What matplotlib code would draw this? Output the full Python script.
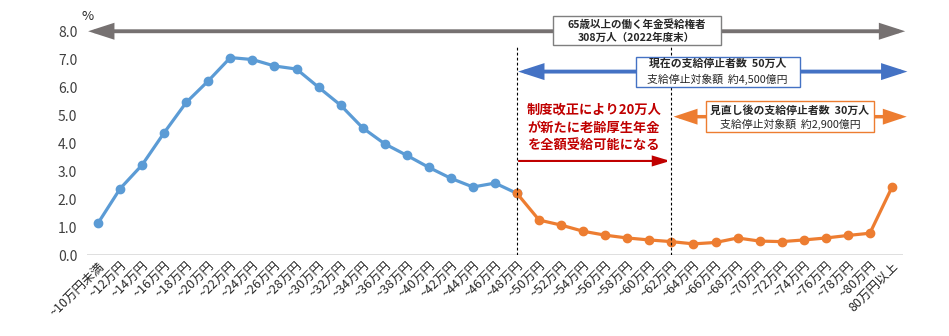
import matplotlib
matplotlib.use("Agg")
import matplotlib.pyplot as plt
from matplotlib.patches import Rectangle

plt.rcParams['font.family'] = ['Noto Sans CJK JP', 'DejaVu Sans']

# income brackets (monthly wage + pension)
labels = ["~10万円未満"] + ["~%d万円" % v for v in range(12, 82, 2)] + ["80万円以上"]

# share of working pensioners per bracket (%)
before = [1.15, 2.38, 3.23, 4.38, 5.46, 6.23, 7.06, 6.99, 6.76, 6.65,
          6.00, 5.36, 4.55, 3.98, 3.57, 3.14, 2.75, 2.44, 2.58, 2.21]
after = [2.21, 1.26, 1.08, 0.86, 0.72, 0.62, 0.55, 0.49, 0.41, 0.46,
         0.62, 0.51, 0.49, 0.55, 0.62, 0.71, 0.79, 2.43]

blue = "#5B9BD5"
orange = "#ED7D31"

fig = plt.figure(figsize=(9.49, 3.36), dpi=100)
ax = fig.add_axes([0.0917, 0.240, 0.8598, 0.667])

x_before = list(range(len(before)))
x_after = list(range(len(before) - 1, len(before) - 1 + len(after)))

ax.plot(x_before, before, color=blue, lw=2.3, marker="o", ms=6, zorder=3)
ax.plot(x_after, after, color=orange, lw=2.3, marker="o", ms=6, zorder=3)

ax.set_xlim(-0.5, len(labels) - 0.5)
ax.set_ylim(0, 8)
ax.set_yticks([i for i in range(9)])
ax.set_yticklabels(["%.1f" % i for i in range(9)], fontsize=10, color="#404040")
ax.set_xticks(range(len(labels)))
ax.set_xticklabels(labels, rotation=45, ha="right", rotation_mode="anchor",
                   fontsize=9, color="#262626")
ax.tick_params(axis="x", length=0, pad=3)
ax.tick_params(axis="y", length=0, pad=7)
for s in ax.spines.values():
    s.set_visible(False)
ax.axhline(0, color="#D9D9D9", lw=1.2, zorder=1)

fig.text(88 / 949, 1 - 16 / 336, "%", fontsize=9.5, ha="center", va="center", color="#262626")

# vertical dashed markers
ax.vlines([19, 26], 0, 7.45, colors="black", linestyles=(0, (2.5, 2)), lw=0.8, zorder=4)


def arrow(x0, x1, y, color, lw, hl, hw, style="<|-|>"):
    ax.annotate("", xy=(x1, y), xytext=(x0, y), xycoords="data", annotation_clip=False,
                arrowprops=dict(arrowstyle="%s,head_length=%s,head_width=%s" % (style, hl, hw),
                                color=color, lw=lw, shrinkA=0, shrinkB=0, mutation_scale=10,
                                joinstyle="miter", capstyle="butt"))


def box(x0, x1, y0, y1, ec):
    ax.add_patch(Rectangle((x0, y0), x1 - x0, y1 - y0, facecolor="white", edgecolor=ec,
                           lw=1.0, zorder=5, clip_on=False))


# all working pension holders
arrow(-0.45, 36.6, 8.0, "#767171", 2.8, 1.3, 0.42)
box(20.61, 28.24, 7.51, 8.55, "#7F7F7F")
ax.text(24.43, 8.22, "65歳以上の働く年金受給権者", ha="center", va="center", fontsize=7.6,
        fontweight="bold", color="#262626", zorder=6, clip_on=False)
ax.text(24.43, 7.77, "308万人（2022年度末）", ha="center", va="center", fontsize=7.6,
        fontweight="bold", color="#262626", zorder=6, clip_on=False)

# current suspension
arrow(19.05, 36.7, 6.56, "#4472C4", 2.8, 1.3, 0.42)
box(24.39, 31.82, 6.01, 7.09, "#4472C4")
ax.text(28.1, 6.85, "現在の支給停止者数  50万人", ha="center", va="center", fontsize=7.8,
        fontweight="bold", color="#262626", zorder=6)
ax.text(28.1, 6.27, "支給停止対象額  約4,500億円", ha="center", va="center", fontsize=7.8,
        color="#262626", zorder=6)

# after revision
arrow(26.1, 36.67, 4.95, orange, 2.5, 1.2, 0.4)
box(27.56, 35.18, 4.40, 5.51, orange)
ax.text(31.37, 5.18, "見直し後の支給停止者数  30万人", ha="center", va="center", fontsize=7.8,
        fontweight="bold", color="#262626", zorder=6)
ax.text(31.37, 4.66, "支給停止対象額  約2,900億円", ha="center", va="center", fontsize=7.8,
        color="#262626", zorder=6)

# newly eligible
ax.text(19.45, 4.55, "制度改正により20万人\nが新たに老齢厚生年金\nを全額受給可能になる",
        ha="left", va="center", fontsize=9.5, fontweight="bold", color="#C00000",
        linespacing=1.35, zorder=6)
arrow(19.05, 25.95, 3.37, "#C00000", 1.5, 1.0, 0.3, style="-|>")

fig.savefig("out.png", dpi=100)
